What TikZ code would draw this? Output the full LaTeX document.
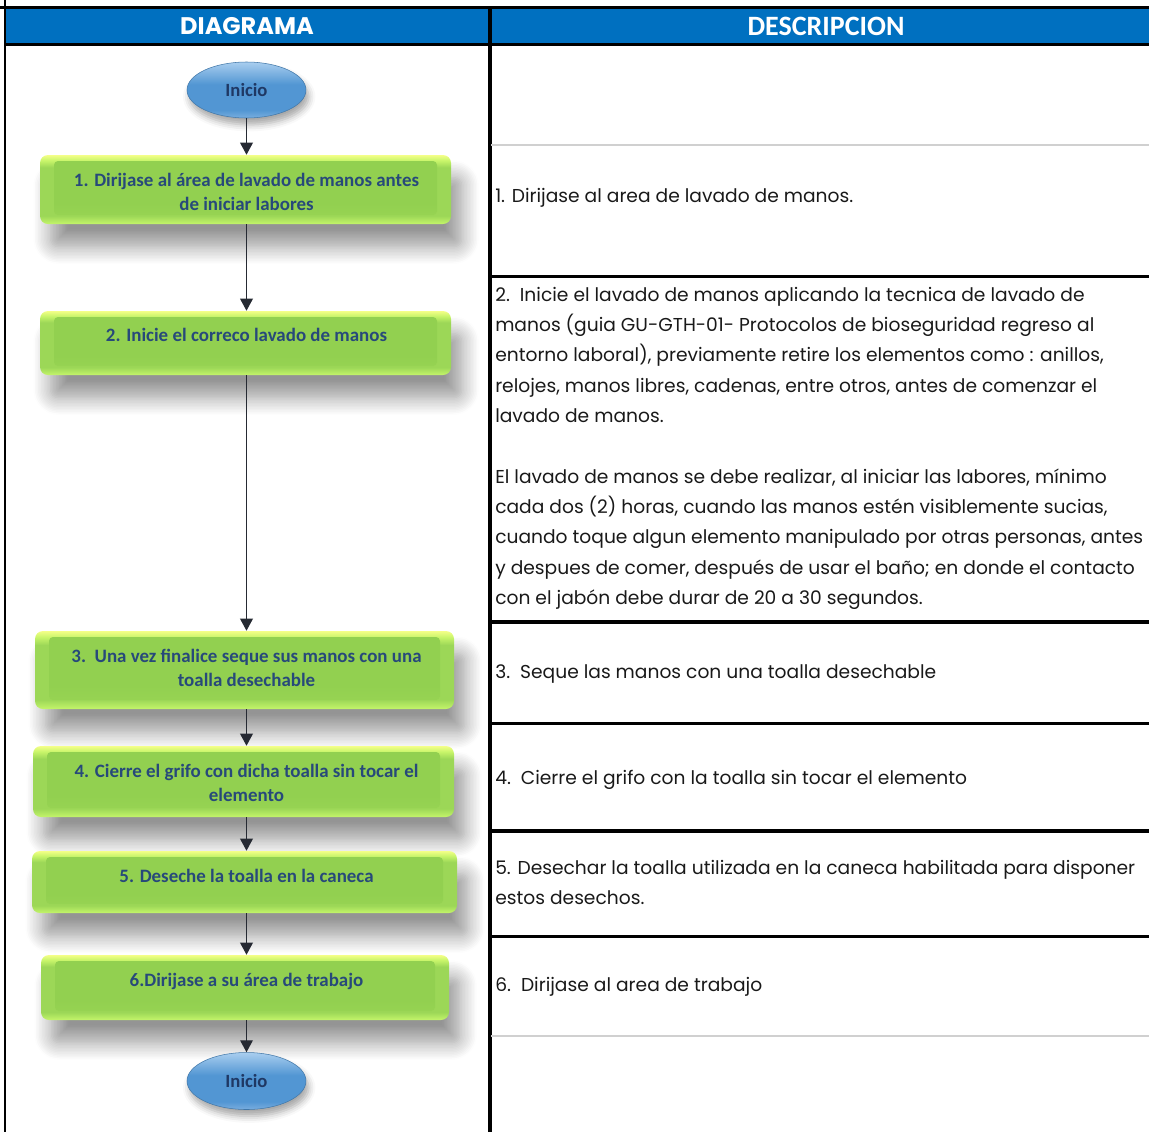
\documentclass[tikz,border=0pt]{standalone}
\usepackage{fontspec}
\usetikzlibrary{arrows.meta,shadows.blur,shapes.geometric,calc}
\newfontfamily\descfont{Poppins}
\newfontfamily\boxfont{Carlito}
\newcommand{\PX}{0.75pt}
\definecolor{hdrblue}{HTML}{0070C0}
\definecolor{boxtext}{HTML}{27497A}
\definecolor{initext}{HTML}{1F3864}
\definecolor{limeb}{HTML}{C4F56A}
\definecolor{greenm}{HTML}{9CD757}
\definecolor{limet}{HTML}{C8F56A}
\definecolor{yellowt}{HTML}{F4FF88}
\definecolor{facegreen}{HTML}{92D050}
\definecolor{ellb}{HTML}{79AEDF}
\definecolor{ellm}{HTML}{5296D3}
\definecolor{ellt}{HTML}{A9CEEF}
\definecolor{arrowc}{HTML}{262A33}
\definecolor{grayline}{HTML}{D0D0D0}
\pgfdeclareverticalshading{boxshade}{100bp}{color(0bp)=(limeb); color(25bp)=(limeb); color(31bp)=(greenm); color(66bp)=(greenm); color(71bp)=(limet); color(75bp)=(yellowt); color(100bp)=(yellowt)}
\pgfdeclareverticalshading{faceshade}{100bp}{color(0bp)=(facegreen!85!limeb); color(25bp)=(facegreen!85!limeb); color(40bp)=(facegreen); color(75bp)=(facegreen); color(100bp)=(facegreen)}
\pgfdeclareverticalshading{ellshade}{100bp}{color(0bp)=(ellb); color(25bp)=(ellb); color(32bp)=(ellm); color(55bp)=(ellm); color(75bp)=(ellt); color(100bp)=(ellt)}
\tikzset{
  stepbox/.style={rectangle, rounded corners=8*\PX, shading=boxshade, inner sep=0pt,
    blur shadow={shadow xshift=8pt, shadow yshift=-17pt, shadow blur radius=13pt, shadow opacity=42, shadow blur steps=12},
    path picture={
      \shade[shading=faceshade, rounded corners=4*\PX]
        ([xshift=14*\PX, yshift=-6*\PX]path picture bounding box.north west) rectangle
        ([xshift=-14*\PX, yshift=9*\PX]path picture bounding box.south east);
    }},
  termin/.style={ellipse, shading=ellshade, draw=ellm!80!black, line width=0.4pt,
    minimum width=119*\PX, minimum height=56*\PX, inner sep=0pt,
    blur shadow={shadow xshift=2pt, shadow yshift=-5pt, shadow blur radius=5pt, shadow opacity=35},
    font=\boxfont\bfseries\fontsize{14pt}{16pt}\selectfont, text=initext},
  btext/.style={anchor=base, inner sep=0pt, font=\boxfont\bfseries\fontsize{14.2pt}{16pt}\selectfont, text=boxtext},
  desc/.style={anchor=base west, inner sep=0pt, font=\descfont\fontsize{14pt}{16pt}\selectfont, text=black!90},
  hdr/.style={inner sep=0pt, text=white},
  flow/.style={draw=arrowc, line width=1pt, -{Triangle[length=9pt,width=9.5pt]}},
  thick line/.style={line width=3.5*\PX},
  thin gray/.style={draw=grayline, line width=2*\PX}
}
\begin{document}
\begin{tikzpicture}[x=0.75pt,y=-0.75pt]
\useasboundingbox (0,0) rectangle (1149,1132);
% table frame
\fill[hdrblue] (5,9) rectangle (1149,43);
\draw[line width=3*\PX] (0,7) -- (1149,7);
\draw[thick line] (5,44.5) -- (1149,44.5);
\draw[line width=2.2*\PX] (5,0) -- (5,1132);
\draw[line width=4*\PX] (489.5,7) -- (489.5,1132);
\draw[thin gray] (491,145) -- (1149,145);
\draw[thick line] (491,276.5) -- (1149,276.5);
\draw[thick line] (491,622) -- (1149,622);
\draw[thick line] (491,723.5) -- (1149,723.5);
\draw[thick line] (491,831) -- (1149,831);
\draw[thick line] (491,936.5) -- (1149,936.5);
\draw[thin gray] (491,1035.5) -- (1149,1035.5);
% headers
\node[hdr, font=\descfont\bfseries\fontsize{18pt}{20pt}\selectfont] (hd) at (247,26.5) {DIAGRAMA};
\node[hdr, font=\boxfont\bfseries\fontsize{21pt}{22pt}\selectfont] (hs) at (826,26.5) {DESCRIPCION};
% flow nodes
\node[termin] (e1) at (246.5,90) {Inicio};
\node[stepbox, minimum width=411*\PX, minimum height=69*\PX] (b1) at (245.5,189.5) {};
\node[stepbox, minimum width=411*\PX, minimum height=64*\PX] (b2) at (245.5,343) {};
\node[stepbox, minimum width=419*\PX, minimum height=78*\PX] (b3) at (244.5,670) {};
\node[stepbox, minimum width=421*\PX, minimum height=71*\PX] (b4) at (243.5,781.5) {};
\node[stepbox, minimum width=425*\PX, minimum height=62*\PX] (b5) at (244.5,882) {};
\node[stepbox, minimum width=408*\PX, minimum height=65*\PX] (b6) at (245,987.5) {};
\node[termin, minimum height=57*\PX] (e2) at (246.5,1081) {Inicio};
% box texts
\node[btext] (t1a) at (246.5,186) {1. Dirijase al área de lavado de manos antes};
\node[btext] (t1b) at (246.5,210) {de iniciar labores};
\node[btext] (t2) at (246.5,341) {2. Inicie el correco lavado de manos};
\node[btext] (t3a) at (246.5,662) {3.\ \ Una vez finalice seque sus manos con una};
\node[btext] (t3b) at (246.5,686) {toalla desechable};
\node[btext] (t4a) at (246.5,777) {4. Cierre el grifo con dicha toalla sin tocar el};
\node[btext] (t4b) at (246.5,801) {elemento};
\node[btext] (t5) at (246.5,882) {5. Deseche la toalla en la caneca};
\node[btext] (t6) at (246.5,986) {6.Dirijase a su área de trabajo};
% connectors
\draw[flow] (e1.south) -- (e1.south |- b1.north);
\draw[flow] (e1.south |- b1.south) -- (e1.south |- b2.north);
\draw[flow] (e1.south |- b2.south) -- (e1.south |- b3.north);
\draw[flow] (e1.south |- b3.south) -- (e1.south |- b4.north);
\draw[flow] (e1.south |- b4.south) -- (e1.south |- b5.north);
\draw[flow] (e1.south |- b5.south) -- (e1.south |- b6.north);
\draw[flow] (e1.south |- b6.south) -- (e2.north);
% descriptions
\node[desc] (d1) at (495,202) {1. Dirijase al area de lavado de manos.};
\node[desc] (d2a) at (495,301) {2.\ \ Inicie el lavado de manos aplicando la tecnica de lavado de};
\node[desc] (d2b) at (495,331.3) {manos (guia GU-GTH-01- Protocolos de bioseguridad regreso al};
\node[desc] (d2c) at (495,361.6) {entorno laboral), previamente retire los elementos como : anillos,};
\node[desc] (d2d) at (495,392) {relojes, manos libres, cadenas, entre otros, antes de comenzar el};
\node[desc] (d2e) at (495,422) {lavado de manos.};
\node[desc] (d2f) at (495,483) {El lavado de manos se debe realizar, al iniciar las labores, mínimo};
\node[desc] (d2g) at (495,513.3) {cada dos (2) horas, cuando las manos estén visiblemente sucias,};
\node[desc] (d2h) at (495,543.6) {cuando toque algun elemento manipulado por otras personas, antes};
\node[desc] (d2i) at (495,574) {y despues de comer, después de usar el baño; en donde el contacto};
\node[desc] (d2j) at (495,604) {con el jabón debe durar de 20 a 30 segundos.};
\node[desc] (d3) at (495,678) {3.\ \ Seque las manos con una toalla desechable};
\node[desc] (d4) at (495,784) {4.\ \ Cierre el grifo con la toalla sin tocar el elemento};
\node[desc] (d5a) at (495,874) {5. Desechar la toalla utilizada en la caneca habilitada para disponer};
\node[desc] (d5b) at (495,904.5) {estos desechos.};
\node[desc] (d6) at (495,991) {6.\ \ Dirijase al area de trabajo};
\end{tikzpicture}
\end{document}
